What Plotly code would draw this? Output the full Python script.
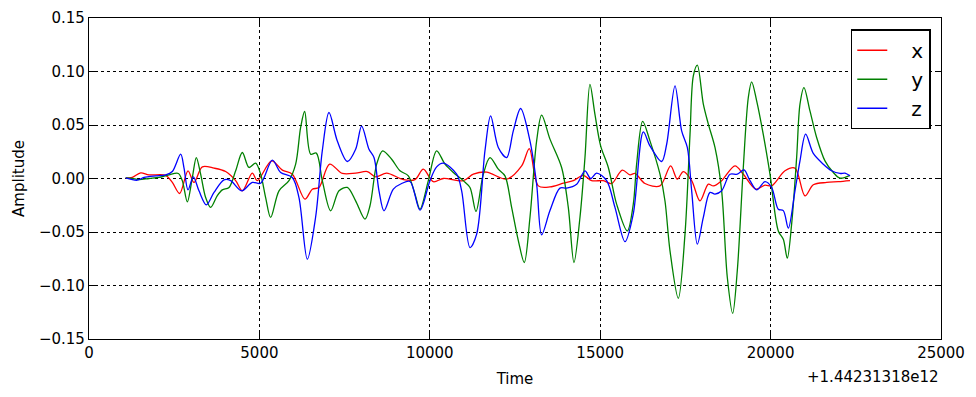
import plotly.graph_objects as go

# time offsets (ms) relative to 1.44231318e12
x_t = [1076, 1271, 1516, 1760, 2250, 2445, 2660, 2905, 3081, 3325, 3668, 4010, 4303, 4499,
       4792, 4939, 5359, 5673, 5966, 6337, 6553, 6748, 7061, 7433, 7824, 8166, 8411, 8734,
       9223, 9565, 9810, 10103, 10397, 10983, 11277, 11668, 12255, 12695, 12920, 13184,
       13526, 13917, 14211, 14504, 14748, 15091, 15335, 15648, 15873, 16020, 16314, 16754,
       17067, 17263, 17439, 17684, 17928, 18173, 18319, 18564, 18955, 19199, 19571, 19835,
       20031, 20422, 20715, 21009, 21253, 21644, 21986, 22329]
x_v = [0.0003, 0.001, 0.0053, 0.0034, 0.003, -0.0037, -0.014, 0.0072, -0.0037, 0.0109,
       0.0097, 0.0065, -0.002, -0.0115, 0.005, -0.002, 0.0165, 0.0078, 0.004, -0.0193,
       -0.010, -0.0084, 0.0134, 0.0047, 0.005, 0.0065, 0.0016, 0.005, -0.001, -0.001,
       0.0087, -0.003, 0.0, -0.002, 0.004, 0.006, -0.0006, 0.0118, 0.028, -0.0069,
       -0.0078, -0.0044, -0.002, 0.003, -0.002, -0.002, -0.0047, 0.0078, 0.0034, 0.0047,
       -0.0047, -0.0069, 0.0118, -0.0006, 0.0065, -0.002, -0.0209, -0.0053, -0.0069,
       -0.002, 0.0118, 0.004, -0.010, -0.0062, -0.0069, 0.0072, 0.0097, -0.0162, -0.0059,
       -0.0037, -0.003, -0.002]

y_t = [1076, 1271, 1467, 1760, 2054, 2347, 2621, 2738, 2885, 3032, 3149, 3276, 3423, 3570,
       3765, 3912, 4108, 4303, 4499, 4694, 4890, 5037, 5183, 5330, 5575, 5868, 6064, 6210,
       6328, 6504, 6670, 6846, 7091, 7335, 7580, 7824, 8098, 8245, 8441, 8617, 8881, 9125,
       9370, 9565, 9712, 9957, 10201, 10446, 10690, 10983, 11179, 11355, 11570, 11766,
       12010, 12206, 12401, 12597, 12773, 12939, 13135, 13282, 13526, 13868, 14064, 14230,
       14406, 14553, 14699, 14846, 15013, 15238, 15482, 15795, 15971, 16069, 16245, 16460,
       16754, 16901, 17048, 17292, 17488, 17635, 17733, 17850, 18026, 18173, 18368, 18564,
       18730, 18887, 19023, 19199, 19346, 19444, 19591, 19786, 19982, 20226, 20373, 20490,
       20617, 20764, 20862, 20979, 21155, 21351, 21595, 21840, 22036, 22329]
y_v = [0.0006, 0.0, -0.001, 0.0, 0.001, 0.0034, 0.0047, -0.002, -0.0218, 0.001, 0.0196,
       0.004, -0.0178, -0.027, -0.016, -0.0106, -0.0084, 0.0072, 0.0243, 0.0103, 0.0143,
       0.004, -0.0178, -0.0364, -0.0115, -0.002, 0.0134, 0.0477, 0.0626, 0.0227, 0.0237,
       -0.002, -0.0302, -0.0115, -0.0084, -0.0209, -0.038, -0.0255, 0.0134, 0.0259, 0.018,
       0.0072, 0.0025, -0.0146, -0.0287, -0.002, 0.0259, 0.0134, 0.0056, -0.002, -0.0084,
       -0.0308, 0.004, 0.0196, 0.0087, 0.0025, -0.027, -0.058, -0.0785, -0.0364, 0.0352,
       0.0592, 0.0368, 0.0103, -0.027, -0.0785, -0.0364, 0.0196, 0.088, 0.060, 0.0305,
       0.0103, -0.024, -0.049, -0.024, 0.0134, 0.0533, 0.0352, 0.004, -0.021, -0.0676,
       -0.112, -0.052, 0.041, 0.096, 0.106, 0.0695, 0.0508, 0.029, -0.0115, -0.0925,
       -0.126, -0.086, 0.0103, 0.0757, 0.0903, 0.0726, 0.041, 0.004, -0.049, -0.0567,
       -0.0745, -0.0427, 0.0196, 0.0695, 0.085, 0.0632, 0.0383, 0.0165, 0.0056, 0.0003, 0.003]

z_t = [1076, 1418, 1614, 1956, 2250, 2445, 2690, 2787, 2905, 3061, 3227, 3443, 3668, 3961,
       4157, 4479, 4792, 5037, 5379, 5624, 5966, 6161, 6406, 6650, 6846, 7042, 7286, 7580,
       7824, 8000, 8215, 8362, 8509, 8656, 8930, 9174, 9419, 9712, 10005, 10201, 10397,
       10788, 10935, 11179, 11375, 11619, 11785, 12010, 12255, 12450, 12665, 12939, 13135,
       13282, 13526, 13819, 14015, 14309, 14553, 14719, 14895, 15189, 15433, 15727, 15971,
       16265, 16460, 16803, 16950, 17195, 17390, 17556, 17684, 17850, 18026, 18221, 18368,
       18564, 18808, 19023, 19219, 19395, 19591, 19835, 20031, 20226, 20373, 20520, 20715,
       20862, 21028, 21253, 21546, 21791, 22036, 22183, 22329]
z_v = [0.0006, -0.0016, 0.001, 0.0025, 0.0034, 0.0065, 0.0227, 0.010, -0.0106, 0.0016,
       -0.0115, -0.0246, -0.013, -0.0012, -0.002, -0.0115, -0.0037, -0.0044, 0.0171, 0.0056,
       0.0009, -0.0178, -0.0754, -0.036, 0.026, 0.0617, 0.035, 0.0159, 0.0274, 0.049,
       0.0274, 0.0196, -0.0115, -0.0302, -0.010, -0.0047, -0.0028, -0.0296, -0.002, 0.0109,
       0.0143, 0.004, -0.0115, -0.0645, -0.052, 0.026, 0.0586, 0.029, 0.0196, 0.0445,
       0.0654, 0.0352, -0.0053, -0.0526, -0.030, -0.009, -0.009, -0.0053, 0.0072, 0.0,
       0.005, -0.002, -0.027, -0.059, -0.033, 0.0436, 0.0305, 0.0159, 0.032, 0.0866,
       0.0445, 0.029, -0.0115, -0.0614, -0.0364, -0.013, -0.0146, -0.0115, 0.004, 0.004,
       0.008, -0.002, -0.0106, -0.003, -0.0084, -0.0287, -0.030, -0.0464, -0.0115, 0.0165,
       0.0414, 0.0234, 0.0134, 0.0072, 0.0047, 0.005, 0.0025]

series = [("x", x_t, x_v, "#ff0000"), ("y", y_t, y_v, "#008000"), ("z", z_t, z_v, "#0000ff")]

fig = go.Figure()
for name, t, v, color in series:
    fig.add_trace(go.Scatter(
        x=t, y=v, name="\u00a0\u00a0\u00a0" + name, mode="lines",
        line=dict(color=color, width=1.3, shape="spline", smoothing=0.9)
    ))

axis_style = dict(
    showline=True, linecolor="black", linewidth=1.2, mirror="ticks",
    ticks="inside", ticklen=6, tickcolor="black",
    showgrid=True, gridcolor="black", griddash="dot", gridwidth=1,
    zeroline=False, tickfont=dict(size=15, color="black"), automargin=False
)

# the page adds an 8px body margin, so the figure is sized to sit inside it
fig.update_layout(
    width=960, height=381,
    margin=dict(l=81, r=27, t=10, b=50),
    paper_bgcolor="white", plot_bgcolor="white",
    font=dict(family="DejaVu Sans", color="black"),
    xaxis=dict(range=[0, 25000], tickvals=[0, 5000, 10000, 15000, 20000, 25000],
               tickformat="d", title=dict(text="Time", font=dict(size=15), standoff=12),
               **axis_style),
    yaxis=dict(range=[-0.15, 0.15], dtick=0.05, tickformat=".2f",
               title=dict(text="Amplitude", font=dict(size=15), standoff=10),
               **axis_style),
    legend=dict(x=0.988, y=0.965, xanchor="right", yanchor="top",
                bordercolor="black", borderwidth=1.5, bgcolor="white",
                font=dict(size=20, color="black"), tracegroupgap=0),
    showlegend=True,
)

fig.add_annotation(text="+1.44231318e12", xref="paper", yref="paper",
                   x=1.0, y=-0.085, xanchor="right", yanchor="top",
                   showarrow=False, font=dict(size=15, color="black"))

fig.write_html("out.html")
